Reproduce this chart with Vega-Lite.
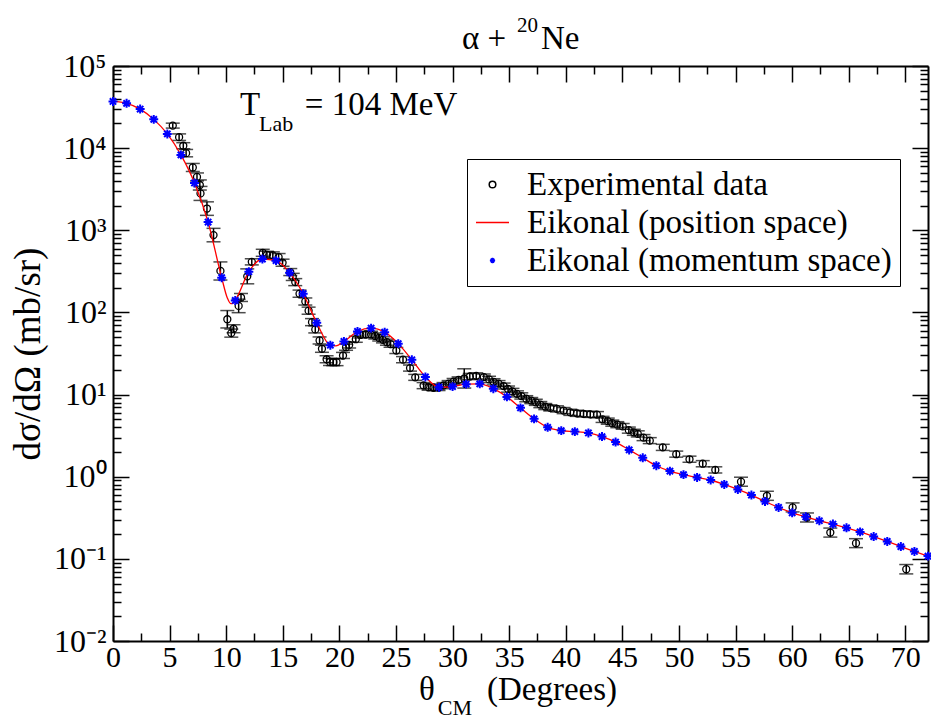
{
  "$schema": "https://vega.github.io/schema/vega-lite/v6.json",
  "width": 815,
  "height": 575,
  "autosize": "none",
  "padding": {"left": 113, "top": 66, "right": 3, "bottom": 78},
  "background": "white",
  "datasets": {
    "one": [{}],
    "exp": [
      {"theta": 5.28, "sigma": 18800, "lo": 17540, "hi": 20150},
      {"theta": 5.84, "sigma": 13600, "lo": 12410, "hi": 14910},
      {"theta": 6.21, "sigma": 10700, "lo": 9830, "hi": 11650},
      {"theta": 6.46, "sigma": 8690, "lo": 7840, "hi": 9640},
      {"theta": 7.05, "sigma": 5820, "lo": 5200, "hi": 6510},
      {"theta": 7.42, "sigma": 4460, "lo": 3990, "hi": 4990},
      {"theta": 7.67, "sigma": 3560, "lo": 3090, "hi": 4100},
      {"theta": 7.73, "sigma": 2810, "lo": 2310, "hi": 3420},
      {"theta": 8.30, "sigma": 1840, "lo": 1520, "hi": 2220},
      {"theta": 8.88, "sigma": 874, "lo": 724, "hi": 1056},
      {"theta": 9.49, "sigma": 320, "lo": 248, "hi": 412},
      {"theta": 10.10, "sigma": 82.6, "lo": 64.7, "hi": 105.4},
      {"theta": 10.45, "sigma": 56, "lo": 50.0, "hi": 62.7},
      {"theta": 10.65, "sigma": 63.3, "lo": 56.6, "hi": 70.8},
      {"theta": 11.10, "sigma": 120, "lo": 99.3, "hi": 145},
      {"theta": 11.31, "sigma": 152, "lo": 136, "hi": 170},
      {"theta": 11.86, "sigma": 275, "lo": 223, "hi": 339},
      {"theta": 12.26, "sigma": 413, "lo": 379, "hi": 450},
      {"theta": 13.23, "sigma": 532, "lo": 482, "hi": 587},
      {"theta": 13.60, "sigma": 503, "lo": 456, "hi": 555},
      {"theta": 14.12, "sigma": 495, "lo": 448, "hi": 546},
      {"theta": 14.63, "sigma": 472, "lo": 428, "hi": 521},
      {"theta": 14.98, "sigma": 403, "lo": 365, "hi": 445},
      {"theta": 15.66, "sigma": 310, "lo": 281, "hi": 342},
      {"theta": 15.88, "sigma": 271, "lo": 245, "hi": 299},
      {"theta": 16.10, "sigma": 234, "lo": 212, "hi": 258},
      {"theta": 16.48, "sigma": 169, "lo": 153, "hi": 187},
      {"theta": 16.99, "sigma": 136, "lo": 123, "hi": 150},
      {"theta": 17.28, "sigma": 105, "lo": 95.1, "hi": 116},
      {"theta": 17.58, "sigma": 76.2, "lo": 69.0, "hi": 84.1},
      {"theta": 17.87, "sigma": 62.1, "lo": 56.3, "hi": 68.6},
      {"theta": 18.25, "sigma": 45.6, "lo": 41.3, "hi": 50.3},
      {"theta": 18.46, "sigma": 36.1, "lo": 32.7, "hi": 39.9},
      {"theta": 18.87, "sigma": 26.9, "lo": 24.4, "hi": 29.7},
      {"theta": 19.17, "sigma": 25.0, "lo": 22.6, "hi": 27.6},
      {"theta": 19.46, "sigma": 24.8, "lo": 22.5, "hi": 27.4},
      {"theta": 19.75, "sigma": 24.8, "lo": 22.5, "hi": 27.4},
      {"theta": 20.32, "sigma": 29.9, "lo": 27.5, "hi": 32.6},
      {"theta": 20.59, "sigma": 37.7, "lo": 34.6, "hi": 41.1},
      {"theta": 20.86, "sigma": 40.2, "lo": 36.9, "hi": 43.8},
      {"theta": 21.45, "sigma": 47.2, "lo": 43.3, "hi": 51.4},
      {"theta": 21.85, "sigma": 53.2, "lo": 48.9, "hi": 57.9},
      {"theta": 22.33, "sigma": 54.0, "lo": 49.6, "hi": 58.8},
      {"theta": 22.80, "sigma": 54.0, "lo": 49.6, "hi": 58.8},
      {"theta": 23.17, "sigma": 51.7, "lo": 47.5, "hi": 56.3},
      {"theta": 23.52, "sigma": 48.9, "lo": 44.9, "hi": 53.3},
      {"theta": 23.85, "sigma": 46.4, "lo": 42.6, "hi": 50.5},
      {"theta": 24.20, "sigma": 43.4, "lo": 39.9, "hi": 47.3},
      {"theta": 24.52, "sigma": 41.1, "lo": 37.7, "hi": 44.8},
      {"theta": 25.03, "sigma": 34.4, "lo": 31.6, "hi": 37.5},
      {"theta": 25.62, "sigma": 26.6, "lo": 24.4, "hi": 29.0},
      {"theta": 26.24, "sigma": 21.0, "lo": 19.3, "hi": 22.9},
      {"theta": 26.70, "sigma": 16.2, "lo": 14.9, "hi": 17.6},
      {"theta": 27.44, "sigma": 12.9, "lo": 11.8, "hi": 14.0},
      {"theta": 27.88, "sigma": 12.3, "lo": 11.3, "hi": 13.4},
      {"theta": 28.32, "sigma": 12.1, "lo": 11.1, "hi": 13.2},
      {"theta": 28.76, "sigma": 12.2, "lo": 11.2, "hi": 13.3},
      {"theta": 29.20, "sigma": 12.9, "lo": 11.8, "hi": 14.0},
      {"theta": 29.65, "sigma": 13.6, "lo": 12.5, "hi": 14.8},
      {"theta": 30.09, "sigma": 14.4, "lo": 13.2, "hi": 15.7},
      {"theta": 30.53, "sigma": 15.1, "lo": 13.9, "hi": 16.4},
      {"theta": 31.03, "sigma": 15.7, "lo": 12.0, "hi": 20.6},
      {"theta": 31.52, "sigma": 16.6, "lo": 15.2, "hi": 18.1},
      {"theta": 32.09, "sigma": 16.9, "lo": 15.5, "hi": 18.4},
      {"theta": 32.76, "sigma": 16.3, "lo": 15.0, "hi": 17.8},
      {"theta": 33.22, "sigma": 15.3, "lo": 14.0, "hi": 16.7},
      {"theta": 33.62, "sigma": 14.3, "lo": 13.1, "hi": 15.6},
      {"theta": 34.06, "sigma": 13.6, "lo": 12.5, "hi": 14.8},
      {"theta": 34.51, "sigma": 12.7, "lo": 11.7, "hi": 13.8},
      {"theta": 34.90, "sigma": 11.7, "lo": 10.7, "hi": 12.7},
      {"theta": 35.29, "sigma": 10.9, "lo": 10.0, "hi": 11.9},
      {"theta": 35.69, "sigma": 10.2, "lo": 9.37, "hi": 11.1},
      {"theta": 36.07, "sigma": 9.6, "lo": 8.82, "hi": 10.5},
      {"theta": 36.51, "sigma": 8.9, "lo": 8.17, "hi": 9.69},
      {"theta": 36.95, "sigma": 8.45, "lo": 7.76, "hi": 9.20},
      {"theta": 37.35, "sigma": 8.05, "lo": 7.39, "hi": 8.77},
      {"theta": 37.75, "sigma": 7.55, "lo": 6.93, "hi": 8.22},
      {"theta": 38.19, "sigma": 7.14, "lo": 6.56, "hi": 7.78},
      {"theta": 38.63, "sigma": 6.88, "lo": 6.32, "hi": 7.49},
      {"theta": 39.22, "sigma": 6.69, "lo": 6.14, "hi": 7.29},
      {"theta": 39.81, "sigma": 6.38, "lo": 5.86, "hi": 6.95},
      {"theta": 40.40, "sigma": 6.08, "lo": 5.58, "hi": 6.62},
      {"theta": 40.99, "sigma": 5.91, "lo": 5.43, "hi": 6.44},
      {"theta": 41.57, "sigma": 5.82, "lo": 5.34, "hi": 6.34},
      {"theta": 42.16, "sigma": 5.74, "lo": 5.27, "hi": 6.25},
      {"theta": 42.76, "sigma": 5.70, "lo": 5.23, "hi": 6.21},
      {"theta": 43.25, "sigma": 4.99, "lo": 4.58, "hi": 5.43},
      {"theta": 43.71, "sigma": 4.75, "lo": 4.36, "hi": 5.17},
      {"theta": 44.11, "sigma": 4.49, "lo": 4.12, "hi": 4.89},
      {"theta": 44.55, "sigma": 4.30, "lo": 3.95, "hi": 4.68},
      {"theta": 45.03, "sigma": 4.10, "lo": 3.77, "hi": 4.46},
      {"theta": 45.57, "sigma": 3.69, "lo": 3.39, "hi": 4.02},
      {"theta": 46.01, "sigma": 3.47, "lo": 3.19, "hi": 3.78},
      {"theta": 46.36, "sigma": 3.32, "lo": 3.05, "hi": 3.62},
      {"theta": 46.87, "sigma": 2.99, "lo": 2.75, "hi": 3.26},
      {"theta": 47.42, "sigma": 2.75, "lo": 2.53, "hi": 2.99},
      {"theta": 48.57, "sigma": 2.28, "lo": 2.09, "hi": 2.48},
      {"theta": 49.76, "sigma": 1.88, "lo": 1.73, "hi": 2.05},
      {"theta": 50.93, "sigma": 1.63, "lo": 1.50, "hi": 1.78},
      {"theta": 52.10, "sigma": 1.44, "lo": 1.32, "hi": 1.57},
      {"theta": 53.21, "sigma": 1.21, "lo": 1.11, "hi": 1.32},
      {"theta": 55.48, "sigma": 0.869, "lo": 0.766, "hi": 0.986},
      {"theta": 57.77, "sigma": 0.586, "lo": 0.516, "hi": 0.665},
      {"theta": 60.04, "sigma": 0.423, "lo": 0.373, "hi": 0.480},
      {"theta": 61.31, "sigma": 0.319, "lo": 0.281, "hi": 0.362},
      {"theta": 63.37, "sigma": 0.209, "lo": 0.184, "hi": 0.237},
      {"theta": 65.64, "sigma": 0.155, "lo": 0.137, "hi": 0.176},
      {"theta": 70.08, "sigma": 0.0748, "lo": 0.0656, "hi": 0.0853}
    ],
    "stars": [
      {"theta": 0, "sigma": 37000}, {"theta": 1.2, "sigma": 35100}, {"theta": 2.4, "sigma": 29900},
      {"theta": 3.6, "sigma": 22400}, {"theta": 4.8, "sigma": 14900}, {"theta": 6.0, "sigma": 8280},
      {"theta": 7.2, "sigma": 3770}, {"theta": 8.4, "sigma": 1260}, {"theta": 9.6, "sigma": 265},
      {"theta": 10.8, "sigma": 140}, {"theta": 12.0, "sigma": 313}, {"theta": 13.2, "sigma": 447},
      {"theta": 14.4, "sigma": 427}, {"theta": 15.6, "sigma": 305}, {"theta": 16.8, "sigma": 169},
      {"theta": 18.0, "sigma": 74.8}, {"theta": 19.2, "sigma": 39.9}, {"theta": 20.4, "sigma": 44.3},
      {"theta": 21.6, "sigma": 58.6}, {"theta": 22.8, "sigma": 64.4}, {"theta": 24.0, "sigma": 57.5},
      {"theta": 25.2, "sigma": 41.7}, {"theta": 26.4, "sigma": 26.5}, {"theta": 27.6, "sigma": 16.4},
      {"theta": 28.8, "sigma": 12.3}, {"theta": 30.0, "sigma": 12.5}, {"theta": 31.2, "sigma": 13.4},
      {"theta": 32.4, "sigma": 13.5}, {"theta": 33.6, "sigma": 11.8}, {"theta": 34.8, "sigma": 9.37},
      {"theta": 36.0, "sigma": 6.89}, {"theta": 37.2, "sigma": 5.06}, {"theta": 38.4, "sigma": 3.99},
      {"theta": 39.6, "sigma": 3.64}, {"theta": 40.8, "sigma": 3.54}, {"theta": 42.0, "sigma": 3.41},
      {"theta": 43.2, "sigma": 3.08}, {"theta": 44.4, "sigma": 2.64}, {"theta": 45.6, "sigma": 2.12},
      {"theta": 46.8, "sigma": 1.70}, {"theta": 48.0, "sigma": 1.36}, {"theta": 49.2, "sigma": 1.17},
      {"theta": 50.4, "sigma": 1.06}, {"theta": 51.6, "sigma": 0.98}, {"theta": 52.8, "sigma": 0.912},
      {"theta": 54.0, "sigma": 0.806}, {"theta": 55.2, "sigma": 0.700}, {"theta": 56.4, "sigma": 0.598},
      {"theta": 57.6, "sigma": 0.500}, {"theta": 58.8, "sigma": 0.422}, {"theta": 60.0, "sigma": 0.364},
      {"theta": 61.2, "sigma": 0.325}, {"theta": 62.4, "sigma": 0.291}, {"theta": 63.6, "sigma": 0.265},
      {"theta": 64.8, "sigma": 0.239}, {"theta": 66.0, "sigma": 0.213}, {"theta": 67.2, "sigma": 0.187},
      {"theta": 68.4, "sigma": 0.163}, {"theta": 69.6, "sigma": 0.141}, {"theta": 70.8, "sigma": 0.123},
      {"theta": 72.0, "sigma": 0.108}
    ],
    "curve": [
      {"theta": 0, "sigma": 37000}, {"theta": 1.2, "sigma": 35100}, {"theta": 2.4, "sigma": 29900},
      {"theta": 3.6, "sigma": 22400}, {"theta": 4.8, "sigma": 14900}, {"theta": 6.0, "sigma": 8280},
      {"theta": 7.2, "sigma": 3770}, {"theta": 8.4, "sigma": 1260}, {"theta": 9.6, "sigma": 265},
      {"theta": 10.1, "sigma": 150}, {"theta": 10.4, "sigma": 128}, {"theta": 10.6, "sigma": 129},
      {"theta": 10.8, "sigma": 140}, {"theta": 12.0, "sigma": 313}, {"theta": 13.2, "sigma": 447},
      {"theta": 14.4, "sigma": 427}, {"theta": 15.6, "sigma": 305}, {"theta": 16.8, "sigma": 169},
      {"theta": 18.0, "sigma": 74.8}, {"theta": 19.2, "sigma": 39.9}, {"theta": 19.7, "sigma": 39.2},
      {"theta": 20.4, "sigma": 44.3},
      {"theta": 21.6, "sigma": 58.6}, {"theta": 22.8, "sigma": 64.4}, {"theta": 24.0, "sigma": 57.5},
      {"theta": 25.2, "sigma": 41.7}, {"theta": 26.4, "sigma": 26.5}, {"theta": 27.6, "sigma": 16.4},
      {"theta": 28.8, "sigma": 12.3}, {"theta": 30.0, "sigma": 12.5}, {"theta": 31.2, "sigma": 13.4},
      {"theta": 32.4, "sigma": 13.5}, {"theta": 33.6, "sigma": 11.8}, {"theta": 34.8, "sigma": 9.37},
      {"theta": 36.0, "sigma": 6.89}, {"theta": 37.2, "sigma": 5.06}, {"theta": 38.4, "sigma": 3.99},
      {"theta": 39.6, "sigma": 3.64}, {"theta": 40.8, "sigma": 3.54}, {"theta": 42.0, "sigma": 3.41},
      {"theta": 43.2, "sigma": 3.08}, {"theta": 44.4, "sigma": 2.64}, {"theta": 45.6, "sigma": 2.12},
      {"theta": 46.8, "sigma": 1.70}, {"theta": 48.0, "sigma": 1.36}, {"theta": 49.2, "sigma": 1.17},
      {"theta": 50.4, "sigma": 1.06}, {"theta": 51.6, "sigma": 0.98}, {"theta": 52.8, "sigma": 0.912},
      {"theta": 54.0, "sigma": 0.806}, {"theta": 55.2, "sigma": 0.700}, {"theta": 56.4, "sigma": 0.598},
      {"theta": 57.6, "sigma": 0.500}, {"theta": 58.8, "sigma": 0.422}, {"theta": 60.0, "sigma": 0.364},
      {"theta": 61.2, "sigma": 0.325}, {"theta": 62.4, "sigma": 0.291}, {"theta": 63.6, "sigma": 0.265},
      {"theta": 64.8, "sigma": 0.239}, {"theta": 66.0, "sigma": 0.213}, {"theta": 67.2, "sigma": 0.187},
      {"theta": 68.4, "sigma": 0.163}, {"theta": 69.6, "sigma": 0.141}, {"theta": 70.8, "sigma": 0.123},
      {"theta": 72.0, "sigma": 0.108}
    ]
  },
  "resolve": {"axis": {"x": "independent", "y": "independent"}},
  "layer": [
    {
      "data": {"name": "exp"},
      "mark": {"type": "rule", "color": "black", "strokeWidth": 1.5},
      "encoding": {
        "x": {
          "field": "theta", "type": "quantitative",
          "scale": {"domain": [0, 72], "nice": false, "zero": false},
          "axis": {
            "orient": "bottom", "title": null,
            "values": [0,2.5,5,7.5,10,12.5,15,17.5,20,22.5,25,27.5,30,32.5,35,37.5,40,42.5,45,47.5,50,52.5,55,57.5,60,62.5,65,67.5,70],
            "labelExpr": "datum.value % 5 === 0 ? datum.label : ''",
            "tickSize": {"condition": {"test": "datum.value % 5 === 0", "value": -16}, "value": -8},
            "labelPadding": 17,
            "labelFontSize": 30
          }
        },
        "y": {
          "field": "lo", "type": "quantitative",
          "scale": {"type": "log", "domain": [0.01, 100000], "nice": false},
          "axis": {
            "orient": "left", "title": "dσ/dΩ (mb/sr)",
            "values": [0.01,0.02,0.03,0.04,0.05,0.06,0.07,0.08,0.09,0.1,0.2,0.3,0.4,0.5,0.6,0.7,0.8,0.9,1,2,3,4,5,6,7,8,9,10,20,30,40,50,60,70,80,90,100,200,300,400,500,600,700,800,900,1000,2000,3000,4000,5000,6000,7000,8000,9000,10000,20000,30000,40000,50000,60000,70000,80000,90000,100000],
            "labelExpr": "abs(log(datum.value)/LN10 - round(log(datum.value)/LN10)) < 0.001 ? '10' + ['⁻²','⁻¹','⁰','¹','²','³','⁴','⁵'][round(log(datum.value)/LN10) + 2] : ''",
            "tickSize": {"condition": {"test": "abs(log(datum.value)/LN10 - round(log(datum.value)/LN10)) < 0.001", "value": -16}, "value": -8},
            "labelPadding": 23,
            "labelFontSize": 32,
            "titleFontSize": 37,
            "titlePadding": 6
          }
        },
        "y2": {"field": "hi"}
      }
    },
    {
      "data": {"name": "exp"},
      "mark": {"type": "tick", "orient": "horizontal", "color": "black", "size": 14, "thickness": 1.5},
      "encoding": {
        "x": {"field": "theta", "type": "quantitative", "axis": null},
        "y": {"field": "lo", "type": "quantitative", "axis": null}
      }
    },
    {
      "data": {"name": "exp"},
      "mark": {"type": "tick", "orient": "horizontal", "color": "black", "size": 14, "thickness": 1.5},
      "encoding": {
        "x": {"field": "theta", "type": "quantitative", "axis": null},
        "y": {"field": "hi", "type": "quantitative", "axis": null}
      }
    },
    {
      "data": {"name": "exp"},
      "mark": {"type": "point", "filled": false, "size": 1225, "strokeWidth": 1.3, "opacity": 1},
      "encoding": {
        "x": {"field": "theta", "type": "quantitative", "axis": null},
        "y": {"field": "sigma", "type": "quantitative", "axis": null},
        "color": {
          "datum": "Experimental data",
          "scale": {"domain": ["Experimental data", "Eikonal (position space)", "Eikonal (momentum space)"], "range": ["black", "#ff0000", "#0000ff"]},
          "legend": {"title": null}
        },
        "shape": {
          "datum": "Experimental data",
          "scale": {"domain": ["Experimental data", "Eikonal (position space)", "Eikonal (momentum space)"], "range": ["M0.2,0A0.2,0.2,0,1,1,-0.2,0A0.2,0.2,0,1,1,0.2,0Z", "M-1,0L1,0", "M-0.16,0L0.16,0M0,-0.16L0,0.16M-0.113,-0.113L0.113,0.113M-0.113,0.113L0.113,-0.113"]},
          "legend": {"title": null}
        }
      }
    },
    {
      "data": {"name": "curve"},
      "mark": {"type": "line", "interpolate": "monotone", "strokeWidth": 1.3},
      "encoding": {
        "x": {
          "field": "theta", "type": "quantitative",
          "axis": {
            "orient": "top", "title": null, "labels": false,
            "values": [0,2.5,5,7.5,10,12.5,15,17.5,20,22.5,25,27.5,30,32.5,35,37.5,40,42.5,45,47.5,50,52.5,55,57.5,60,62.5,65,67.5,70],
            "tickSize": {"condition": {"test": "datum.value % 5 === 0", "value": -16}, "value": -8}
          }
        },
        "y": {
          "field": "sigma", "type": "quantitative",
          "axis": {
            "orient": "right", "title": null, "labels": false,
            "values": [0.01,0.02,0.03,0.04,0.05,0.06,0.07,0.08,0.09,0.1,0.2,0.3,0.4,0.5,0.6,0.7,0.8,0.9,1,2,3,4,5,6,7,8,9,10,20,30,40,50,60,70,80,90,100,200,300,400,500,600,700,800,900,1000,2000,3000,4000,5000,6000,7000,8000,9000,10000,20000,30000,40000,50000,60000,70000,80000,90000,100000],
            "tickSize": {"condition": {"test": "abs(log(datum.value)/LN10 - round(log(datum.value)/LN10)) < 0.001", "value": -16}, "value": -8}
          }
        },
        "color": {"datum": "Eikonal (position space)"}
      }
    },
    {
      "data": {"name": "stars"},
      "mark": {"type": "point", "filled": false, "size": 3136, "strokeWidth": 2, "opacity": 1},
      "encoding": {
        "x": {"field": "theta", "type": "quantitative", "axis": null},
        "y": {"field": "sigma", "type": "quantitative", "axis": null},
        "color": {"datum": "Eikonal (momentum space)"},
        "shape": {"datum": "Eikonal (momentum space)"}
      }
    },
    {
      "data": {"name": "one"},
      "mark": {"type": "text", "text": "α +", "font": "Liberation Serif", "fontSize": 33, "align": "left", "baseline": "alphabetic", "dy": -17, "color": "black"},
      "encoding": {"x": {"datum": 30.83, "type": "quantitative", "axis": null}, "y": {"datum": 100000, "type": "quantitative", "axis": null}}
    },
    {
      "data": {"name": "one"},
      "mark": {"type": "text", "text": "20", "font": "Liberation Serif", "fontSize": 21, "align": "left", "baseline": "alphabetic", "dy": -34, "color": "black"},
      "encoding": {"x": {"datum": 35.69, "type": "quantitative", "axis": null}, "y": {"datum": 100000, "type": "quantitative", "axis": null}}
    },
    {
      "data": {"name": "one"},
      "mark": {"type": "text", "text": "Ne", "font": "Liberation Serif", "fontSize": 33, "align": "left", "baseline": "alphabetic", "dy": -17, "color": "black"},
      "encoding": {"x": {"datum": 37.81, "type": "quantitative", "axis": null}, "y": {"datum": 100000, "type": "quantitative", "axis": null}}
    },
    {
      "data": {"name": "one"},
      "mark": {"type": "text", "text": "T", "font": "Liberation Serif", "fontSize": 33, "align": "left", "baseline": "alphabetic", "dy": 49, "color": "black"},
      "encoding": {"x": {"datum": 11.22, "type": "quantitative", "axis": null}, "y": {"datum": 100000, "type": "quantitative", "axis": null}}
    },
    {
      "data": {"name": "one"},
      "mark": {"type": "text", "text": "Lab", "font": "Liberation Serif", "fontSize": 22, "align": "left", "baseline": "alphabetic", "dy": 65, "color": "black"},
      "encoding": {"x": {"datum": 12.9, "type": "quantitative", "axis": null}, "y": {"datum": 100000, "type": "quantitative", "axis": null}}
    },
    {
      "data": {"name": "one"},
      "mark": {"type": "text", "text": "= 104 MeV", "font": "Liberation Serif", "fontSize": 33, "align": "left", "baseline": "alphabetic", "dy": 49, "color": "black"},
      "encoding": {"x": {"datum": 16.95, "type": "quantitative", "axis": null}, "y": {"datum": 100000, "type": "quantitative", "axis": null}}
    },
    {
      "data": {"name": "one"},
      "mark": {"type": "text", "text": "θ", "font": "Liberation Serif", "fontSize": 33, "align": "left", "baseline": "alphabetic", "dy": 59, "color": "black"},
      "encoding": {"x": {"datum": 27.03, "type": "quantitative", "axis": null}, "y": {"datum": 0.01, "type": "quantitative", "axis": null}}
    },
    {
      "data": {"name": "one"},
      "mark": {"type": "text", "text": "CM", "font": "Liberation Serif", "fontSize": 22, "align": "left", "baseline": "alphabetic", "dy": 74, "color": "black"},
      "encoding": {"x": {"datum": 28.7, "type": "quantitative", "axis": null}, "y": {"datum": 0.01, "type": "quantitative", "axis": null}}
    },
    {
      "data": {"name": "one"},
      "mark": {"type": "text", "text": "(Degrees)", "font": "Liberation Serif", "fontSize": 33, "align": "left", "baseline": "alphabetic", "dy": 59, "color": "black"},
      "encoding": {"x": {"datum": 33.04, "type": "quantitative", "axis": null}, "y": {"datum": 0.01, "type": "quantitative", "axis": null}}
    }
  ],
  "config": {
    "view": {"stroke": null},
    "axis": {
      "domainColor": "black", "domainWidth": 2, "tickColor": "black", "tickWidth": 1.5,
      "labelFont": "Liberation Serif", "labelFontSize": 31, "labelColor": "black", "labelLimit": 0,
      "titleFont": "Liberation Serif", "titleFontSize": 33, "titleColor": "black", "titleFontWeight": "normal",
      "grid": false, "labelOverlap": false, "labelFlush": false, "labelBound": false
    },
    "legend": {
      "orient": "none", "legendX": 354, "legendY": 93,
      "labelFont": "Liberation Serif", "labelFontSize": 33, "labelColor": "black", "labelLimit": 0,
      "symbolSize": 1089, "symbolStrokeWidth": 1.5, "symbolFillColor": "transparent",
      "strokeColor": "black", "padding": 8, "rowPadding": 3, "labelOffset": 17
    }
  }
}
